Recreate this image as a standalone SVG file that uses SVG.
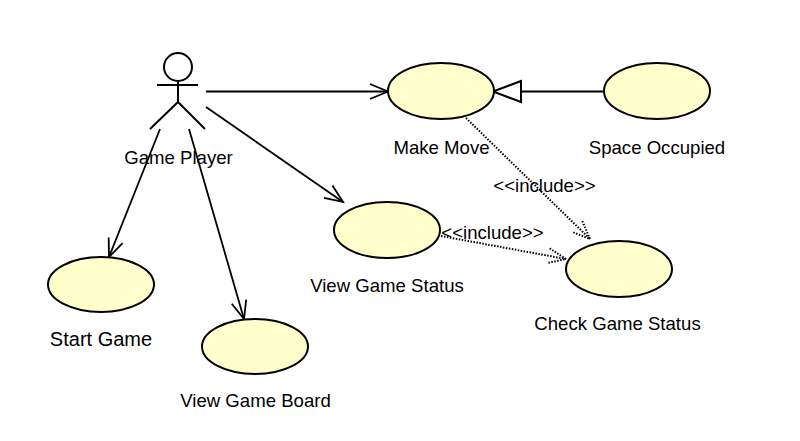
<svg xmlns="http://www.w3.org/2000/svg" width="800" height="441" viewBox="0 0 800 441">
<defs>
<style>
.u{fill:#ffffcc;stroke:#000;stroke-width:2}
.l{fill:none;stroke:#000;stroke-width:2}
.t{fill:#fff;stroke:#000;stroke-width:2}
.c{fill:none;stroke:#000;stroke-width:1.800}
.d{fill:none;stroke:#000;stroke-width:2;stroke-dasharray:1.500 1.500}
text{font-family:"Liberation Sans",Arial,sans-serif;font-size:18.600px;fill:#000;text-anchor:middle}
.b{font-size:20px}
</style>
<marker id="o" markerUnits="userSpaceOnUse" markerWidth="26" markerHeight="20" refX="23" refY="10" orient="auto"><path d="M5 2.500L23 10L5 17.500" fill="none" stroke="#000" stroke-width="1.800"/></marker>
<marker id="od" markerUnits="userSpaceOnUse" markerWidth="26" markerHeight="20" refX="23" refY="10" orient="auto"><path d="M5 2.500L23 10L5 17.500" fill="none" stroke="#000" stroke-width="2" stroke-dasharray="1.500 1.500"/></marker>
</defs>
<rect width="800" height="441" fill="#fff"/>
<g id="connectors">
<path class="c" marker-end="url(#o)" d="M206 91.500H388"/>
<path class="c" marker-end="url(#o)" d="M206 107L343 202"/>
<path class="c" marker-end="url(#o)" d="M160 129L109 257"/>
<path class="c" marker-end="url(#o)" d="M189 129L244 319"/>
<path class="l" d="M603 91.500H521"/>
<path class="t" d="M521 81V102L493 91.500Z"/>
<path class="d" marker-end="url(#od)" d="M466 118L590 239"/>
<path class="d" marker-end="url(#od)" d="M441 236L566 259"/>
</g>
<g id="actor">
<circle class="l" cx="178" cy="67" r="14"/>
<path class="l" d="M178 81V102M157 85H198M178 102L150 129M178 102L205 129"/>
<text x="178.500" y="163.500">Game Player</text>
</g>
<g id="make-move"><ellipse class="u" cx="441" cy="91" rx="53" ry="28"/><text x="441.500" y="153.500">Make Move</text></g>
<g id="space-occupied"><ellipse class="u" cx="657" cy="91" rx="53" ry="28"/><text x="657" y="153.500">Space Occupied</text></g>
<g id="view-game-status"><ellipse class="u" cx="387" cy="230" rx="53" ry="28"/><text x="387" y="291.500">View Game Status</text></g>
<g id="check-game-status"><ellipse class="u" cx="619" cy="269" rx="53" ry="28"/><text x="617.500" y="329.500">Check Game Status</text></g>
<g id="start-game"><ellipse class="u" cx="101" cy="284.500" rx="53" ry="27.500"/><text x="101" y="346" class="b">Start Game</text></g>
<g id="view-game-board"><ellipse class="u" cx="255" cy="346.500" rx="53" ry="27.500"/><text x="255.500" y="407">View Game Board</text></g>
<text x="544.500" y="192">&lt;&lt;include&gt;&gt;</text>
<text x="492.500" y="239">&lt;&lt;include&gt;&gt;</text>
</svg>
